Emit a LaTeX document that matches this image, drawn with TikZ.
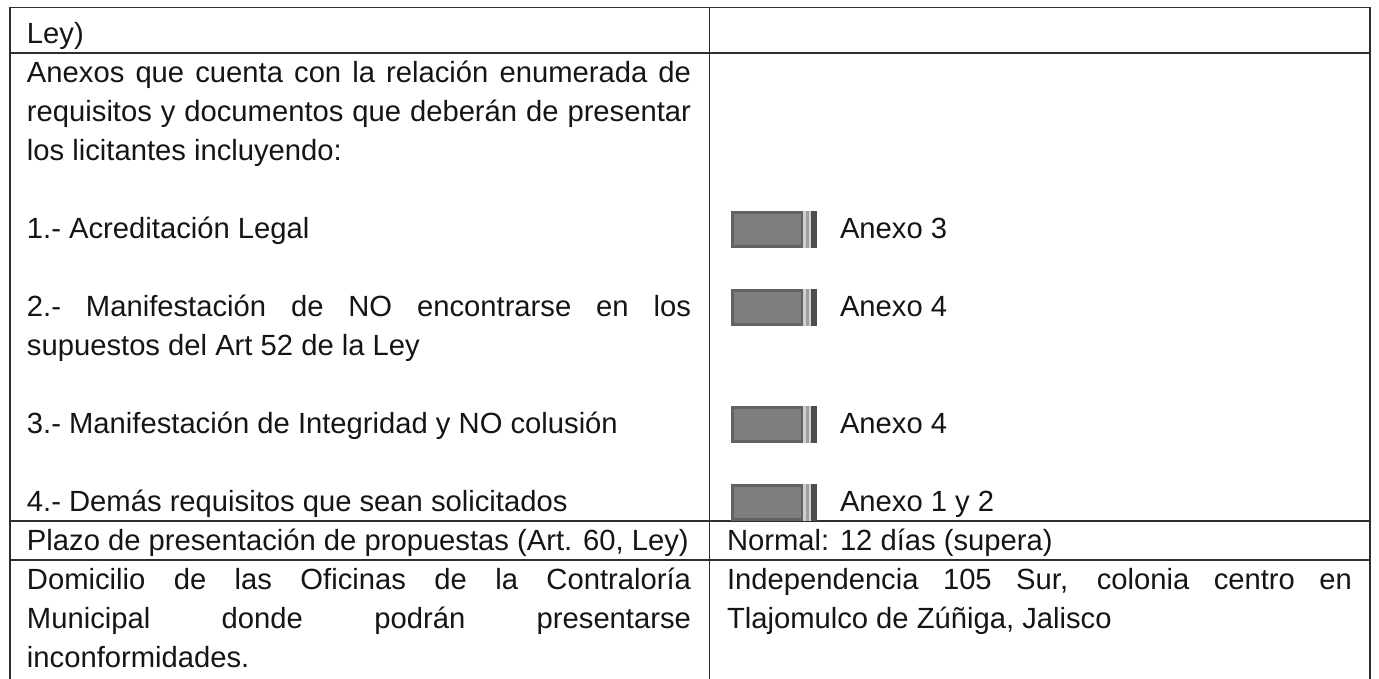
\documentclass[tikz,border=0pt]{standalone}
\usepackage{fontspec}
\setmainfont{Liberation Sans}
\definecolor{ink}{HTML}{151515}
\definecolor{rulec}{HTML}{2E2E2E}
\definecolor{boxouter}{HTML}{626262}
\definecolor{boxinner}{HTML}{7E7E7E}
\definecolor{boxlight}{HTML}{CFCFCF}
\definecolor{boxmidc}{HTML}{A0A0A0}
\definecolor{boxend}{HTML}{4E4E4E}
\begin{document}
\begin{tikzpicture}[x=1pt,y=-1pt,
  txt/.style={anchor=base west, inner sep=0pt, outer sep=0pt, text=ink,
              font=\fontsize{29.2}{35}\selectfont},
  hrule/.style={line width=1.3pt, draw=rulec},
  vrule/.style={line width=1.5pt, draw=rulec}]
\useasboundingbox[fill=white] (0,0) rectangle (1379,679);
% table rules
\coordinate (tl) at (10,7.5);
\coordinate (tm) at (709.5,7.5);
\coordinate (tr) at (1370,7.5);
\coordinate (bl) at (10,679);
\coordinate (bm) at (709.5,679);
\coordinate (br) at (1370,679);
\draw[hrule] (tl) -- (tr);
\draw[hrule] (10,53) -- (1370,53);
\draw[hrule] (10,521) -- (1370,521);
\draw[hrule] (10,560) -- (1370,560);
\draw[vrule] (tl) -- (bl);
\draw[vrule] (tm) -- (bm);
\draw[vrule] (tr) -- (br);
% left column
\node[txt] (t0) at (27,43.5) {Ley)};
\node[txt] (t1) at (27,82.5) {\makebox[664pt][s]{Anexos que cuenta con la relación enumerada de}};
\node[txt] (t2) at (27,121.5) {\makebox[664pt][s]{requisitos y documentos que deberán de presentar}};
\node[txt] (t3) at (27,160.5) {los licitantes incluyendo:};
\node[txt] (t5) at (27,238.5) {1.- Acreditación Legal};
\node[txt] (t7) at (27,316.5) {\makebox[664pt][s]{2.- Manifestación de NO encontrarse en los}};
\node[txt] (t8) at (27,355.5) {supuestos del Art 52 de la Ley};
\node[txt] (t10) at (27,433.5) {3.- Manifestación de Integridad y NO colusión};
\node[txt] (t12) at (27,511.5) {4.- Demás requisitos que sean solicitados};
\node[txt] (t13) at (27,550.5) {Plazo de presentación de propuestas (Art. 60, Ley)};
\node[txt] (t14) at (27,589.5) {\makebox[664pt][s]{Domicilio de las Oficinas de la Contraloría}};
\node[txt] (t15) at (27,628.5) {\makebox[664pt][s]{Municipal donde podrán presentarse}};
\node[txt] (t16) at (27,667.5) {inconformidades.};
% right column boxes
\foreach \c in {228,306,423,501}{
  \fill[boxouter] (731,\c-17) rectangle (817,\c+20);
  \fill[boxinner] (734,\c-14) rectangle (801,\c+17);
  \fill[boxlight] (803,\c-17) rectangle (806,\c+20);
  \fill[boxmidc] (806,\c-17) rectangle (809,\c+20);
  \fill[boxlight] (809,\c-17) rectangle (811,\c+20);
  \fill[boxend] (811,\c-17) rectangle (817,\c+20);
}
\node[txt] (a3) at (840,238.5) {Anexo 3};
\node[txt] (a4) at (840,316.5) {Anexo 4};
\node[txt] (a4b) at (840,433.5) {Anexo 4};
\node[txt] (a12) at (840,511.5) {Anexo 1 y 2};
\node[txt] (r13) at (727,550.5) {Normal: 12 días (supera)};
\node[txt] (r14) at (727,589.5) {\makebox[625pt][s]{Independencia 105 Sur, colonia centro en}};
\node[txt] (r15) at (727,628.5) {Tlajomulco de Zúñiga, Jalisco};
\end{tikzpicture}
\end{document}
